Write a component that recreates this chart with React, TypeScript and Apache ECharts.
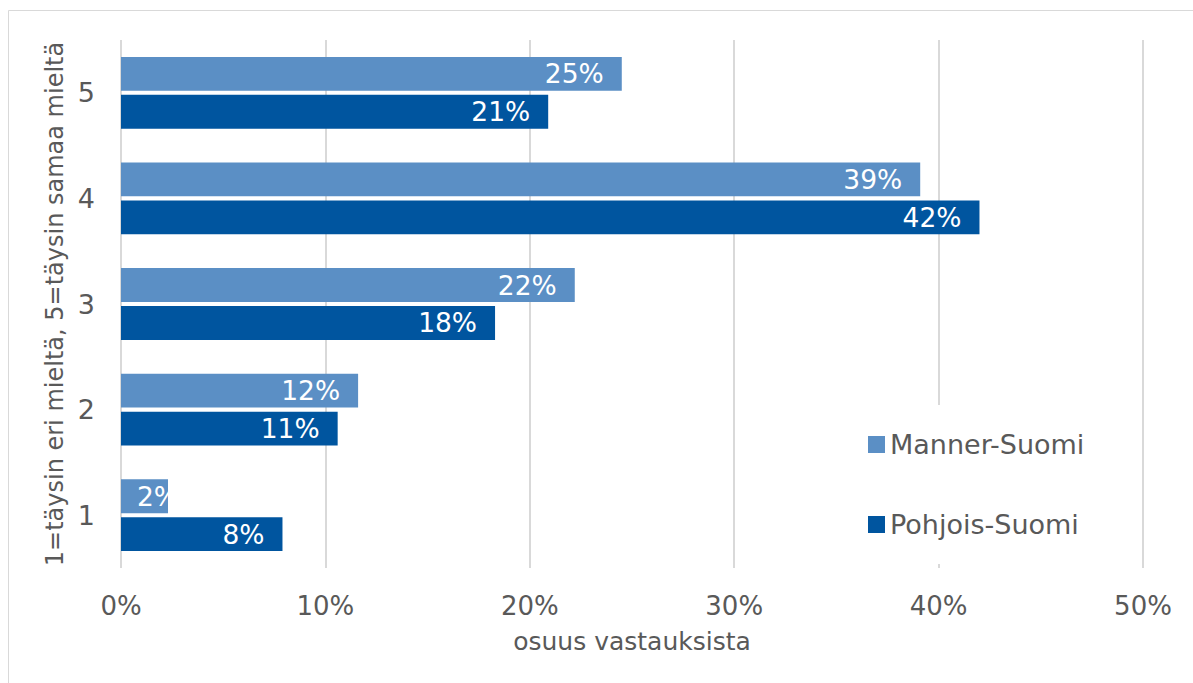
import React, { useEffect, useRef } from "react";
import * as echarts from "echarts";

// Response scale (1 = strongly disagree, 5 = strongly agree)
const categories = ["1", "2", "3", "4", "5"];
// Share of responses, percent
const mannerSuomi = [2.3, 11.6, 22.2, 39.1, 24.5];
const pohjoisSuomi = [7.9, 10.6, 18.3, 42.0, 20.9];
const xTicks = [0, 10, 20, 30, 40, 50];

const FONT = "'DejaVu Sans', Verdana, sans-serif";
const TEXT = "#595959";
const LIGHT = "#5b8fc5";
const DARK = "#00559f";

function labelFor(v: number) {
  // very short bars get their label at the start of the bar
  if (v < 5) return { position: "insideLeft", distance: 16 };
  return { position: "insideRight", distance: 18 };
}

export default function App() {
  const ref = useRef<HTMLDivElement>(null);

  useEffect(() => {
    document.body.style.margin = "0";
    const chart = echarts.init(ref.current!, null, { renderer: "svg" });
    const mkData = (arr: number[]) =>
      arr.map((v) => ({ value: v, label: labelFor(v) }));
    const barLabel = {
      show: true,
      color: "#ffffff",
      fontFamily: FONT,
      fontSize: 26.5,
      formatter: (p: any) => Math.round(p.value) + "%",
    };
    chart.setOption({
      animation: false,
      textStyle: { fontFamily: FONT },
      graphic: [
        {
          type: "rect",
          shape: { x: 8.5, y: 10.5, width: 1200, height: 700 },
          style: { fill: "none", stroke: "#d9d9d9", lineWidth: 1 },
          silent: true,
          z: -10,
        },
      ],
      grid: { left: 121, right: 50, top: 40, bottom: 115 },
      xAxis: {
        type: "value",
        min: xTicks[0],
        max: xTicks[xTicks.length - 1],
        interval: 10,
        axisLine: { show: false },
        axisTick: { show: false },
        splitLine: { lineStyle: { color: "#d9d9d9", width: 2 } },
        axisLabel: {
          color: TEXT,
          fontFamily: FONT,
          fontSize: 26,
          margin: 25,
          formatter: (v: number) => v + "%",
        },
        name: "osuus vastauksista",
        nameLocation: "middle",
        nameGap: 61,
        nameTextStyle: { color: TEXT, fontFamily: FONT, fontSize: 25 },
      },
      yAxis: {
        type: "category",
        data: categories,
        axisLine: { show: false },
        axisTick: { show: false },
        axisLabel: { color: TEXT, fontFamily: FONT, fontSize: 27, margin: 26 },
        name: "1=täysin eri mieltä, 5=täysin samaa mieltä",
        nameLocation: "middle",
        nameGap: 46,
        nameTextStyle: { color: TEXT, fontFamily: FONT, fontSize: 24 },
      },
      legend: {
        orient: "vertical",
        left: 856,
        top: 405,
        padding: [26, 20, 26, 12],
        itemGap: 53,
        itemWidth: 17,
        itemHeight: 17,
        backgroundColor: "#ffffff",
        icon: "rect",
        data: ["Manner-Suomi", "Pohjois-Suomi"],
        textStyle: { color: TEXT, fontFamily: FONT, fontSize: 27 },
      },
      series: [
        {
          name: "Manner-Suomi",
          type: "bar",
          data: mkData(mannerSuomi),
          itemStyle: { color: LIGHT },
          barCategoryGap: "32%",
          barGap: "12%",
          label: barLabel,
        },
        {
          name: "Pohjois-Suomi",
          type: "bar",
          data: mkData(pohjoisSuomi),
          itemStyle: { color: DARK },
          barCategoryGap: "32%",
          barGap: "12%",
          label: barLabel,
        },
      ],
    });
    return () => chart.dispose();
  }, []);

  return <div ref={ref} style={{ width: 1193, height: 683 }} />;
}
